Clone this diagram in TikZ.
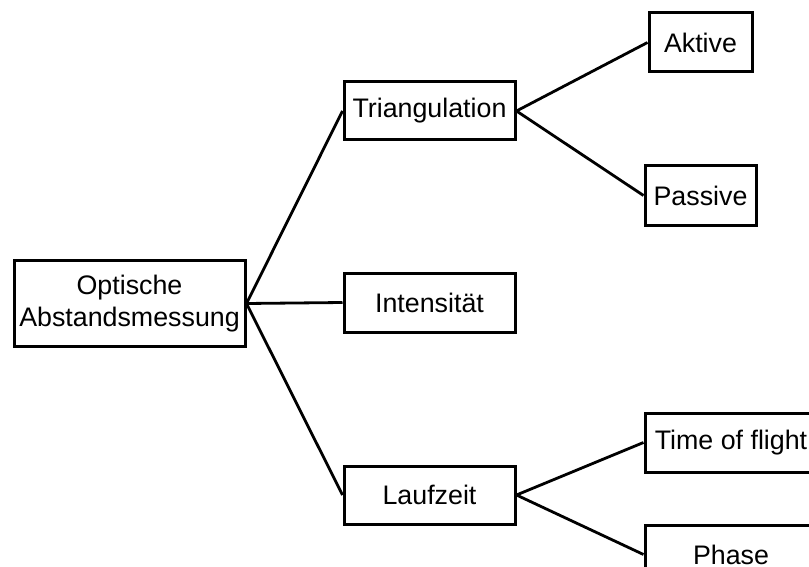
\documentclass[tikz,border=0pt]{standalone}
\usepackage{fontspec}
\setmainfont{Liberation Sans}
\begin{document}
\begin{tikzpicture}[x=1pt,y=-1pt,
  box/.style={draw=black,line width=3pt,fill=white,rectangle,inner sep=0pt,
    align=center,font=\fontsize{26.8}{32}\selectfont},
  link/.style={draw=black,line width=2.8pt}]
\useasboundingbox (0,0) rectangle (809,567);
\clip (0,0) rectangle (809,567);
\node[box,minimum width=231pt,minimum height=86pt] (root) at (129.5,303.5) {Optische\\Abstandsmessung};
\node[box,minimum width=171pt,minimum height=58pt] (tri) at (429.5,111) {Triangulation};
\node[box,minimum width=171pt,minimum height=59pt] (int) at (429.5,302.5) {Intensität};
\node[box,minimum width=171pt,minimum height=58pt] (lauf) at (429.5,495) {Laufzeit};
\node[box,minimum width=103pt,minimum height=59pt] (akt) at (700.5,42.5) {Aktive};
\node[box,minimum width=111pt,minimum height=59pt] (pas) at (700.5,195.5) {Passive};
\node[box,minimum width=172pt,minimum height=59pt] (tof) at (731,442.5) {Time of flight};
\node[box,minimum width=172pt,minimum height=59pt] (pha) at (731,554.5) {Phase};
\draw[link] (root.east) -- (tri.west);
\draw[link] (root.east) -- (int.west);
\draw[link] (root.east) -- (lauf.west);
\draw[link] (tri.east) -- (akt.west);
\draw[link] (tri.east) -- (pas.west);
\draw[link] (lauf.east) -- (tof.west);
\draw[link] (lauf.east) -- (pha.west);
\end{tikzpicture}
\end{document}
